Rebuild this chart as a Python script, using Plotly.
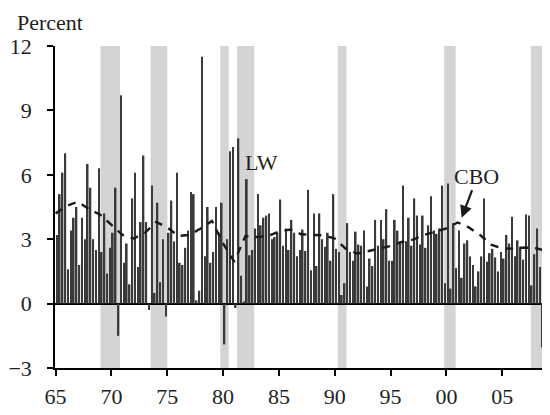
import plotly.graph_objects as go

# Quarterly LW estimates, 1965Q1 .. 2008Q4 (percent)
lw_values = [
    3.2, 5.1, 6.1, 7.0, 1.6, 3.4, 4.0, 4.5, 1.8, 4.0,
    3.0, 6.5, 5.4, 3.0, 2.5, 6.3, 2.4, 4.2, 1.4, 2.6,
    3.3, 5.4, -1.5, 9.7, 1.9, 2.8, 0.9, 4.9, 6.1, 1.7,
    3.8, 6.9, 3.8, -0.3, 5.5, 0.5, 4.7, 1.0, 3.0, -0.6,
    3.3, 4.8, 2.9, 6.1, 1.9, 1.8, 2.6, 3.4, 5.2, 5.1,
    0.15, 0.6, 11.5, 2.2, 4.5, 1.9, 2.4, 4.5, 3.3, 4.7,
    -1.9, 3.0, 7.1, 7.3, -0.2, 7.7, 1.3, 0.1, 5.8, 2.25,
    2.5, 3.5, 5.1, 3.65, 4.0, 4.1, 4.2, 3.0, 3.1, 3.3,
    4.85, 2.7, 3.5, 2.5, 3.9, 3.3, 2.2, 2.5, 3.45, 2.45,
    5.3, 1.55, 4.2, 1.75, 4.2, 3.0, 2.65, 3.3, 2.0, 5.1,
    2.55, 2.4, 0.4, 0.95, 3.75, 2.4, 2.0, 3.35, 2.75, 2.7,
    3.4, 0.8, 2.1, 1.75, 3.9, 2.7, 3.9, 3.0, 4.4, 2.0,
    2.0, 3.9, 3.4, 2.9, 5.5, 2.9, 4.0, 2.7, 4.9, 4.1,
    2.75, 4.1, 2.6, 3.65, 5.0, 3.4, 3.25, 3.5, 5.5, 0.95,
    5.6, 0.7, 3.75, 1.65, 3.4, 1.2, 2.8, 2.95, 2.2, 1.8,
    0.8, 1.5, 2.2, 4.9, 1.95, 2.35, 2.55, 2.15, 1.5, 2.4,
    2.1, 3.2, 2.8, 4.05, 2.2, 2.95, 2.65, 2.05, 4.15, 4.1,
    0.85, 2.3, 3.5, 1.7, -2.05, -1.7,
]
lw_start_year = 1965

# CBO estimate, read at the start of each year 1965..2009 (percent)
cbo_years = list(range(1965, 2010))
cbo_values = [
    4.2, 4.55, 4.75, 4.4, 4.14, 3.65, 3.2, 3.03, 3.3, 3.8,
    3.55, 3.15, 3.2, 3.5, 3.85, 2.8, 1.95, 3.15, 3.1, 3.15,
    3.35, 3.45, 3.23, 3.2, 3.18, 3.03, 2.55, 2.33, 2.45, 2.56,
    2.68, 2.87, 2.98, 3.2, 3.35, 3.5, 3.78, 3.55, 3.2, 2.75,
    2.57, 2.56, 2.61, 2.58, 2.45,
]

# Shaded periods (as drawn)
shade_start = [1969.02, 1973.51, 1979.75, 1981.25, 1990.27, 1999.79, 2007.55]
shade_end = [1970.77, 1975.01, 1980.50, 1982.78, 1991.05, 2000.82, 2009.4]

tick_years = [1965, 1970, 1975, 1980, 1985, 1990, 1995, 2000, 2005]
tick_labels = ["65", "70", "75", "80", "85", "90", "95", "00", "05"]
y_ticks = [-3, 0, 3, 6, 9, 12]

lw_x = [lw_start_year + 0.125 + 0.25 * i for i in range(len(lw_values))]

FONT = "Liberation Serif"
TXT = "#231f20"

fig = go.Figure()
fig.add_trace(go.Bar(
    x=lw_x, y=lw_values, width=0.15,
    marker=dict(color="#3a3a3a", line=dict(width=0)),
    showlegend=False, hoverinfo="skip",
))
fig.add_trace(go.Scatter(
    x=cbo_years, y=cbo_values, mode="lines",
    line=dict(color="#1a1a1a", width=2.4, dash="8px,7px"),
    showlegend=False, hoverinfo="skip",
))

for s, e in zip(shade_start, shade_end):
    fig.add_shape(type="rect", xref="x", yref="paper", x0=s, x1=e, y0=0, y1=1,
                  fillcolor="#d4d4d6", line=dict(width=0), layer="below")

fig.add_annotation(x=1983.42, y=6.58, text="LW", showarrow=False,
                   font=dict(family=FONT, size=22, color=TXT))
fig.add_annotation(x=2002.72, y=5.93, text="CBO", showarrow=False,
                   font=dict(family=FONT, size=22, color=TXT))
fig.add_annotation(x=2001.36, y=4.0, text="", showarrow=True,
                   ax=11, ay=-29, arrowhead=2, arrowsize=1.1, arrowwidth=2.2,
                   arrowcolor="#1a1a1a")
fig.add_annotation(xref="paper", yref="paper", x=-0.0803, y=1.0736,
                   xanchor="left", yanchor="middle", text="Percent",
                   showarrow=False, font=dict(family=FONT, size=22, color=TXT))

# The page adds an 8px body margin; the figure is sized to fit the window.
fig.update_layout(
    width=542, height=407,
    margin=dict(l=44, r=0, t=38, b=47),
    paper_bgcolor="white", plot_bgcolor="white",
    xaxis=dict(range=[1964.95, 2009.27], tickmode="array", tickvals=tick_years,
               ticktext=tick_labels, ticks="outside", ticklen=6, tickwidth=1.5,
               tickcolor="black", showline=True, linecolor="black", linewidth=1.5,
               showgrid=False, zeroline=False, ticklabelstandoff=2,
               tickfont=dict(family=FONT, size=22, color=TXT)),
    yaxis=dict(range=[-3, 12], tickmode="array", tickvals=y_ticks,
               ticks="outside", ticklen=6, tickwidth=1.5, tickcolor="black",
               showline=True, linecolor="black", linewidth=1.5, showgrid=False,
               zeroline=True, zerolinecolor="black", zerolinewidth=1.5,
               ticklabelstandoff=11,
               tickfont=dict(family=FONT, size=22, color=TXT)),
)

fig.write_html("out.html")
